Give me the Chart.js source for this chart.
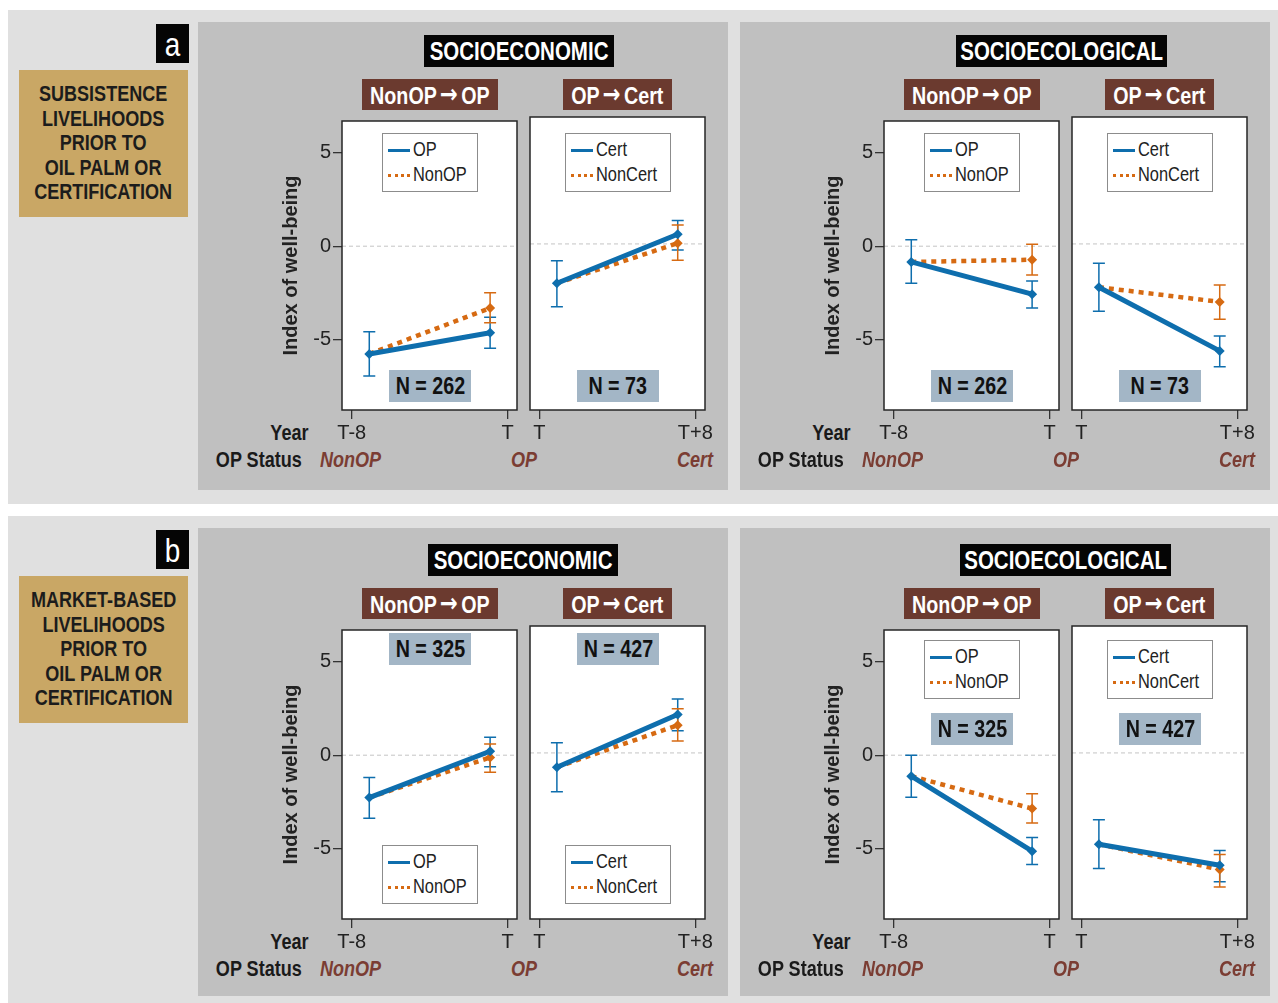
<!DOCTYPE html>
<html>
<head>
<meta charset="utf-8">
<title>Well-being trajectories around oil palm adoption and certification</title>
<script src="https://cdn.jsdelivr.net/npm/chart.js@4.4.1/dist/chart.umd.min.js"></script>
<style>
  body { margin: 0; background: #ffffff; }
  #fig { position: relative; width: 1278px; height: 1003px; overflow: hidden;
         font-family: "Liberation Sans", Arial, sans-serif; }
  .abs { position: absolute; box-sizing: border-box; }
  .outer { background: #e0e0e0; }
  .panel { background: #c0c0c0; }
  .center { display: flex; align-items: center; justify-content: center; text-align: center; white-space: nowrap; }
  /* condensed lettering: Liberation Sans squeezed horizontally */
  .sq { display: inline-block; transform: scaleX(0.82); transform-origin: center center; white-space: nowrap; }
  .sqL { display: inline-block; transform: scaleX(0.82); transform-origin: left center; white-space: nowrap; }
  .sqR { display: inline-block; transform: scaleX(0.82); transform-origin: right center; white-space: nowrap; }
  .arrow { font-family: "DejaVu Sans", sans-serif; font-weight: bold; font-size: 26px; margin: 0 4px; position: relative; top: -1px; }
  .letter { background: #050505; color: #fff; font-size: 34px; line-height: 1; }
  .gold { background: #c9a765; color: #1c1c1c; font-weight: bold; font-size: 22px; line-height: 24.6px; }
  .title { background: #050505; color: #fff; font-weight: bold; font-size: 25px; }
  .trans { background: #6b3a2f; color: #fff; font-weight: bold; font-size: 24px; }
  .nbox { background: #a3b6c6; color: #111; font-weight: bold; font-size: 24px; }
  .legend { background: #fff; border: 1px solid #8c8c8c; color: #222; font-size: 20px; padding: 3px 0 0 5px; }
  .lrow { height: 25px; line-height: 25px; white-space: nowrap; }
  .sw { display: inline-block; width: 22px; height: 0; vertical-align: middle; margin-right: 3px; }
  .sw.solid { border-top: 3px solid #0e6ead; }
  .sw.dot { border-top: 3px dotted #d66a12; }
  .axlab { color: #1a1a1a; font-weight: bold; font-size: 22px; line-height: 26px; text-align: right; white-space: nowrap; }
  .status { color: #7b3d33; font-weight: bold; font-style: italic; font-size: 22px; line-height: 26px; white-space: nowrap; }
  canvas { position: absolute; }
</style>
</head>
<body>
<div id="fig"></div>
<script>
// ---------------------------------------------------------------------------
// Data: index of well-being (mean and 95% interval) before and after each
// transition. The comparison group shares the treated group's starting value.
// ---------------------------------------------------------------------------
const transitionFrom = ['NonOP', 'OP'];
const transitionTo = ['OP', 'Cert'];
const treatedNames = ['OP', 'Cert'];
const controlNames = ['NonOP', 'NonCert'];
const opYears = [-7.1, -0.9];          // survey years relative to adoption (T)
const certYears = [0.9, 7.1];          // survey years relative to adoption (T)
const opYearTicks = [-8, 0];
const opYearLabels = ['T-8', 'T'];
const certYearTicks = [0, 8];
const certYearLabels = ['T', 'T+8'];
const wellbeingTicks = [-5, 0, 5];
const statusLabels = ['NonOP', 'OP', 'Cert'];

const subsistenceLines = ['SUBSISTENCE', 'LIVELIHOODS', 'PRIOR TO', 'OIL PALM OR', 'CERTIFICATION'];
const marketLines = ['MARKET-BASED', 'LIVELIHOODS', 'PRIOR TO', 'OIL PALM OR', 'CERTIFICATION'];
const domainTitles = ['SOCIOECONOMIC', 'SOCIOECOLOGICAL'];

const subsistenceN = [262, 73];
const marketN = [325, 427];

// Subsistence livelihoods — socioeconomic
const subEconOp        = [-5.75, -4.62];
const subEconOpLow     = [-6.93, -5.44];
const subEconOpHigh    = [-4.56, -3.79];
const subEconNonOp     = [-5.75, -3.30];
const subEconNonOpLow  = [null, -4.09];
const subEconNonOpHigh = [null, -2.49];

const subEconCert        = [-2.07, 0.51];
const subEconCertLow     = [-3.30, -0.32];
const subEconCertHigh    = [-0.88, 1.23];
const subEconNonCert     = [-2.07, 0.04];
const subEconNonCertLow  = [null, -0.86];
const subEconNonCertHigh = [null, 1.00];

// Subsistence livelihoods — socioecological
const subEcolOp        = [-0.84, -2.56];
const subEcolOpLow     = [-1.98, -3.30];
const subEcolOpHigh    = [0.35, -1.86];
const subEcolNonOp     = [-0.84, -0.72];
const subEcolNonOpLow  = [null, -1.54];
const subEcolNonOpHigh = [null, 0.10];

const subEcolCert        = [-2.28, -5.63];
const subEcolCertLow     = [-3.54, -6.46];
const subEcolCertHigh    = [-1.02, -4.84];
const subEcolNonCert     = [-2.28, -3.05];
const subEcolNonCertLow  = [null, -3.96];
const subEcolNonCertHigh = [null, -2.16];

// Market-based livelihoods — socioeconomic
const mktEconOp        = [-2.26, 0.21];
const mktEconOpLow     = [-3.37, -0.61];
const mktEconOpHigh    = [-1.19, 0.96];
const mktEconNonOp     = [-2.26, -0.12];
const mktEconNonOpLow  = [null, -0.91];
const mktEconNonOpHigh = [null, 0.60];

const mktEconCert        = [-0.75, 2.02];
const mktEconCertLow     = [-2.04, 1.17];
const mktEconCertHigh    = [0.54, 2.84];
const mktEconNonCert     = [-0.75, 1.46];
const mktEconNonCertLow  = [null, 0.63];
const mktEconNonCertHigh = [null, 2.32];

// Market-based livelihoods — socioecological
const mktEcolOp        = [-1.12, -5.12];
const mktEcolOpLow     = [-2.25, -5.83];
const mktEcolOpHigh    = [0.00, -4.39];
const mktEcolNonOp     = [-1.12, -2.85];
const mktEcolNonOpLow  = [null, -3.62];
const mktEcolNonOpHigh = [null, -2.06];

const mktEcolCert        = [-4.81, -5.91];
const mktEcolCertLow     = [-6.08, -6.78];
const mktEcolCertHigh    = [-3.52, -5.13];
const mktEcolNonCert     = [-4.81, -6.13];
const mktEcolNonCertLow  = [null, -7.06];
const mktEcolNonCertHigh = [null, -5.34];

// ---------------------------------------------------------------------------
// Styling
// ---------------------------------------------------------------------------
const SANS = '"Liberation Sans", Arial, sans-serif';
const BLUE = '#0e6ead';
const ORANGE = '#d66a12';
const INK = '#222222';
const Y_MIN = -8.74, Y_MAX = 6.68;

const fig = document.getElementById('fig');
const px = v => v + 'px';
function box(cls, l, t, w, h, text, sq) {
  const d = document.createElement('div');
  d.className = 'abs ' + cls;
  d.style.left = px(l); d.style.top = px(t);
  if (w != null) d.style.width = px(w);
  if (h != null) d.style.height = px(h);
  if (text != null) d.innerHTML = `<span class="${sq || 'sq'}">${text}</span>`;
  fig.appendChild(d);
  return d;
}

// Plugins: white plot face, dashed zero reference, error bars and plot frame.
const zeroLine = {
  id: 'zeroLine',
  beforeDatasetsDraw(chart) {
    const { ctx, chartArea: a, scales: { y } } = chart;
    const yy = y.getPixelForValue(0);
    ctx.save();
    ctx.strokeStyle = '#c4c4c4';
    ctx.lineWidth = 1;
    ctx.setLineDash([4, 3]);
    ctx.beginPath();
    ctx.moveTo(a.left, yy); ctx.lineTo(a.right, yy);
    ctx.stroke();
    ctx.restore();
  }
};
const errorBars = {
  id: 'errorBars',
  beforeDatasetsDraw(chart) {
    const { ctx, scales: { x, y } } = chart;
    ctx.save();
    chart.data.datasets.forEach(ds => {
      if (!ds.errLow) return;
      ctx.strokeStyle = ds.borderColor;
      ctx.lineWidth = 1.5;
      ds.data.forEach((p, i) => {
        const lo = ds.errLow[i], hi = ds.errHigh[i];
        if (lo == null || hi == null) return;
        const xx = x.getPixelForValue(p.x);
        const y1 = y.getPixelForValue(lo), y2 = y.getPixelForValue(hi);
        ctx.beginPath();
        ctx.moveTo(xx, y1); ctx.lineTo(xx, y2);
        ctx.moveTo(xx - 6, y1); ctx.lineTo(xx + 6, y1);
        ctx.moveTo(xx - 6, y2); ctx.lineTo(xx + 6, y2);
        ctx.stroke();
      });
    });
    ctx.restore();
  }
};
const frame = {
  id: 'frame',
  beforeDraw(chart) {
    const { ctx, chartArea: a } = chart;
    ctx.save();
    ctx.fillStyle = '#ffffff';
    ctx.fillRect(a.left, a.top, a.right - a.left, a.bottom - a.top);
    ctx.restore();
  },
  afterDraw(chart) {
    const { ctx, chartArea: a } = chart;
    ctx.save();
    ctx.strokeStyle = '#262626';
    ctx.lineWidth = 1.5;
    ctx.strokeRect(a.left, a.top, a.right - a.left, a.bottom - a.top);
    ctx.restore();
  }
};

const PLOT_W = 175, PLOT_H = 293, Y_AXIS_W = 72, SIDE_PAD = 20, TOP_PAD = 10, X_AXIS_H = 40;

function addChart(p) {
  const showY = p.showY;
  const cLeft = showY ? p.left - Y_AXIS_W : p.left - SIDE_PAD;
  const cTop = p.top - TOP_PAD;
  const cW = (showY ? Y_AXIS_W : SIDE_PAD) + PLOT_W + SIDE_PAD;
  const cH = TOP_PAD + PLOT_H + X_AXIS_H;
  const cv = document.createElement('canvas');
  cv.width = cW; cv.height = cH;
  cv.style.left = px(cLeft); cv.style.top = px(cTop);
  cv.style.width = px(cW); cv.style.height = px(cH);
  fig.appendChild(cv);

  const xs = p.years;
  new Chart(cv.getContext('2d'), {
    type: 'line',
    data: {
      datasets: [
        {
          label: p.treatedName,
          data: xs.map((x, i) => ({ x, y: p.treated[i] })),
          errLow: p.treatedLow, errHigh: p.treatedHigh,
          borderColor: BLUE, backgroundColor: BLUE,
          borderWidth: 5, borderCapStyle: 'round',
          pointStyle: 'rectRot', pointRadius: 5, pointBorderWidth: 0
        },
        {
          label: p.controlName,
          data: xs.map((x, i) => ({ x, y: p.control[i] })),
          errLow: p.controlLow, errHigh: p.controlHigh,
          borderColor: ORANGE, backgroundColor: ORANGE,
          borderWidth: 4.5, borderDash: [5, 5], borderCapStyle: 'butt',
          pointStyle: 'rectRot', pointRadius: [0, 5], pointBorderWidth: 0
        }
      ]
    },
    options: {
      responsive: false, animation: false, events: [],
      layout: { padding: { left: showY ? 0 : SIDE_PAD, right: SIDE_PAD, top: TOP_PAD, bottom: 0 } },
      plugins: { legend: { display: false }, tooltip: { enabled: false } },
      scales: {
        x: {
          type: 'linear', min: p.xMin, max: p.xMax,
          afterBuildTicks: s => { s.ticks = p.tickVals.map(v => ({ value: v })); },
          afterFit: s => { s.height = X_AXIS_H; },
          ticks: {
            autoSkip: false, maxRotation: 0, padding: 2, color: INK,
            font: { family: SANS, size: 20 },
            callback: v => p.tickLabels[p.tickVals.indexOf(v)]
          },
          grid: { drawOnChartArea: false, drawTicks: true, tickLength: 9, color: '#333', lineWidth: 1.3 },
          border: { display: false }
        },
        y: {
          display: showY, min: Y_MIN, max: Y_MAX,
          afterBuildTicks: s => { s.ticks = wellbeingTicks.map(v => ({ value: v })); },
          afterFit: s => { if (showY) s.width = Y_AXIS_W; },
          ticks: { padding: 2, color: INK, font: { family: SANS, size: 20 } },
          grid: { drawOnChartArea: false, drawTicks: true, tickLength: 9, color: '#333', lineWidth: 1.3 },
          border: { display: false },
          title: {
            display: true, text: 'Index of well-being', color: INK,
            font: { family: SANS, size: 20, weight: 'bold' },
            padding: { top: 9, bottom: 0 }
          }
        }
      }
    },
    plugins: [frame, zeroLine, errorBars]
  });
}

function addLegend(cx, top, p) {
  const w = p.sub === 0 ? 96 : 106;
  box('legend', Math.round(cx - w / 2), top, w, 59).innerHTML =
    `<div class="lrow"><span class="sw solid"></span><span class="sqL">${p.treatedName}</span></div>` +
    `<div class="lrow"><span class="sw dot"></span><span class="sqL">${p.controlName}</span></div>`;
}

// ---------------------------------------------------------------------------
// Figure assembly
// ---------------------------------------------------------------------------
const rows = [
  {
    letter: 'a', lines: subsistenceLines, n: subsistenceN, outerTop: 10, outerH: 494, dy: 0, titleShift: 0,
    legendTop: [133, 133], nTop: [370, 370],
    series: [
      [ [subEconOp, subEconOpLow, subEconOpHigh, subEconNonOp, subEconNonOpLow, subEconNonOpHigh],
        [subEconCert, subEconCertLow, subEconCertHigh, subEconNonCert, subEconNonCertLow, subEconNonCertHigh] ],
      [ [subEcolOp, subEcolOpLow, subEcolOpHigh, subEcolNonOp, subEcolNonOpLow, subEcolNonOpHigh],
        [subEcolCert, subEcolCertLow, subEcolCertHigh, subEcolNonCert, subEcolNonCertLow, subEcolNonCertHigh] ]
    ]
  },
  {
    letter: 'b', lines: marketLines, n: marketN, outerTop: 516, outerH: 487, dy: 509, titleShift: 4,
    legendTop: [336, 131], nTop: [124, 204],
    series: [
      [ [mktEconOp, mktEconOpLow, mktEconOpHigh, mktEconNonOp, mktEconNonOpLow, mktEconNonOpHigh],
        [mktEconCert, mktEconCertLow, mktEconCertHigh, mktEconNonCert, mktEconNonCertLow, mktEconNonCertHigh] ],
      [ [mktEcolOp, mktEcolOpLow, mktEcolOpHigh, mktEcolNonOp, mktEcolNonOpLow, mktEcolNonOpHigh],
        [mktEcolCert, mktEcolCertLow, mktEcolCertHigh, mktEcolNonCert, mktEcolNonCertLow, mktEcolNonCertHigh] ]
    ]
  }
];

const DOMAIN_DX = 542;
const titleBoxes = [[424, 190], [956 - DOMAIN_DX, 211]];
const transition = k => `${transitionFrom[k]}<span class="arrow">\u2192</span>${transitionTo[k]}`;

rows.forEach(row => {
  const dy = row.dy;
  box('outer', 8, row.outerTop, 1270, row.outerH);
  box('letter center', 156, row.outerTop + 14, 33, 39, row.letter);
  box('gold center', 19, row.outerTop + 60, 169, 147, row.lines.join('<br>'));

  [0, 1].forEach(d => {
    const dx = d * DOMAIN_DX;
    box('panel', 198 + dx, row.outerTop + 12, 530, 468);
    box('title center', titleBoxes[d][0] + dx + row.titleShift, 35 + dy, titleBoxes[d][1], 32, domainTitles[d]);
    box('trans center', 362 + dx, 79 + dy, 136, 31, transition(0));
    box('trans center', 563 + dx, 79 + dy, 109, 31, transition(1));

    // axis row captions
    box('axlab', 200 + dx, 420 + dy, 108, 26, 'Year', 'sqR');
    box('axlab', 170 + dx, 447 + dy, 132, 26, 'OP Status', 'sqR');
    box('status', 320 + dx, 447 + dy, null, 26, statusLabels[0], 'sqL');
    box('status', 511 + dx, 447 + dy, null, 26, statusLabels[1], 'sqL');
    box('status', 677 + dx, 447 + dy, null, 26, statusLabels[2], 'sqL');

    [0, 1].forEach(sub => {
      const s = row.series[d][sub];
      const left = (sub === 0 ? 342 : 530) + dx;
      const top = 117 + dy;
      const p = {
        sub, left, top, showY: sub === 0,
        years: sub === 0 ? opYears : certYears,
        xMin: sub === 0 ? -8.5 : -0.48, xMax: sub === 0 ? 0.48 : 8.5,
        tickVals: sub === 0 ? opYearTicks : certYearTicks,
        tickLabels: sub === 0 ? opYearLabels : certYearLabels,
        treatedName: treatedNames[sub], controlName: controlNames[sub],
        treated: s[0], treatedLow: s[1], treatedHigh: s[2],
        control: s[3], controlLow: s[4], controlHigh: s[5]
      };
      addChart(p);
      const cx = left + PLOT_W / 2;
      addLegend(cx, row.legendTop[d] + dy, p);
      box('nbox center', Math.round(cx - 41), row.nTop[d] + dy, 82, 32, 'N = ' + row.n[sub]);
    });
  });
});
</script>
</body>
</html>
